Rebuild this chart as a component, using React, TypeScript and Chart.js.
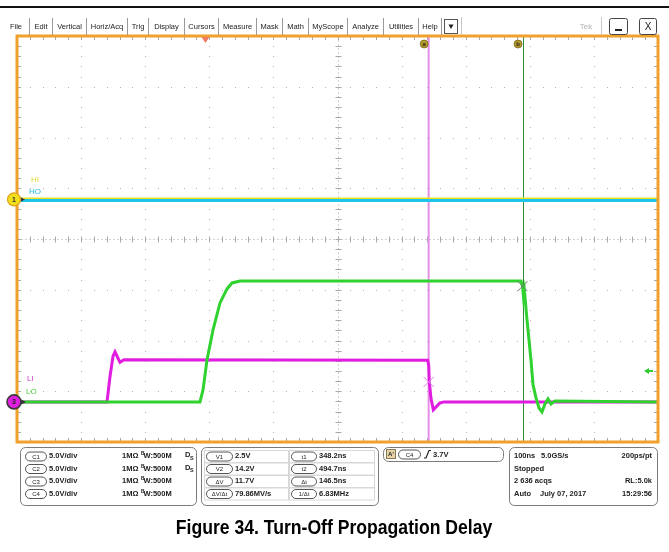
import React, { useEffect, useRef } from "react";
import { Chart, registerables } from "chart.js";

Chart.register(...registerables);

// ---------------- data ----------------
const VOLTS_PER_DIV = 5;
const TIME_PER_DIV = 100; // ns
const TIME_START = -294; // ns (left edge, relative to trigger)
const X_DIVS = 10;
const Y_DIVS = 8;
const CH1_OFFSET_DIV = 0.78;
const CH3_OFFSET_DIV = -3.21;

// HI (yellow) / HO (cyan) on channel-1 reference
const hiTimes = [-294, 706];
const hiVolts = [0.05, 0.05];
const hoTimes = [-294, 706];
const hoVolts = [-0.1, -0.1];

// LI (magenta)
const liTimes = [-294, -153.6, -148.9, -144.2, -141.1, -136.4, -133.3, -127.1, 346.7, 348.3, 349.2, 351.9, 355.5, 359.7, 365.9, 372.1, 706];
const liVolts = [0, 0, 2.5, 4.5, 4.93, 4.3, 3.9, 4.15, 4.1, 3.6, 1.97, 0.3, -0.79, -0.5, -0.1, 0, 0];

// LO (green)
const loTimes = [-294, -8.5, -3.8, 2.4, 11.8, 22.7, 33.6, 41.4, 53.9, 492.3, 494.6, 496.2, 497.7, 501.6, 507.9, 511, 515.7, 520.4, 525, 529.7, 534.4, 539.1, 545.3, 706];
const loVolts = [0, 0, 1.18, 4.14, 7.1, 9.75, 11.13, 11.72, 11.9, 11.9, 11.4, 10.3, 10.9, 8.1, 4.1, 1.7, 0.4, -0.6, -0.99, -0.2, 0.3, -0.2, 0.1, 0];

const cursorATime = 348.2;
const cursorBTime = 494.7;
const cursorAVolts = 1.97; // on LI
const cursorBVolts = 11.4; // on LO
const trigArrowDiv = -2.6;

const menuItems = ["File", "Edit", "Vertical", "Horiz/Acq", "Trig", "Display", "Cursors", "Measure", "Mask", "Math", "MyScope", "Analyze", "Utilities", "Help"];
const chNames = ["C1", "C2", "C3", "C4"];
const chScales = ["5.0V/div", "5.0V/div", "5.0V/div", "5.0V/div"];
const chImpedance = ["1MΩ", "1MΩ", "1MΩ", "1MΩ"];
const chBandwidth = ["W:500M", "W:500M", "W:500M", "W:500M"];
const chDs = [true, true, false, false];
const measLeftLabels = ["V1", "V2", "ΔV", "ΔV/Δt"];
const measLeftValues = ["2.5V", "14.2V", "11.7V", "79.86MV/s"];
const measRightLabels = ["t1", "t2", "Δt", "1/Δt"];
const measRightValues = ["348.2ns", "494.7ns", "146.5ns", "6.83MHz"];
const trigSource = "C4";
const trigLevel = "3.7V";
const horizLine = ["100ns", "5.0GS/s", "200ps/pt"];
const acqState = "Stopped";
const acqCount = ["2 636 acqs", "RL:5.0k"];
const acqDate = ["Auto", "July 07, 2017", "15:29:56"];
const figureTitle = "Figure 34. Turn-Off Propagation Delay";

// ---------------- helpers ----------------
const toDiv = (offset: number, v: number) => offset + v / VOLTS_PER_DIV;
const mk = (ts: number[], vs: number[], off: number) => ts.map((t, i) => ({ x: t, y: toDiv(off, vs[i]) }));

const FONT = '"Liberation Sans", Arial, sans-serif';

function pill(ctx: CanvasRenderingContext2D, x: number, y: number, w: number, h: number, text: string) {
  ctx.beginPath();
  ctx.roundRect(x + 0.5, y - h / 2 + 0.5, w, h, h / 2);
  ctx.fillStyle = "#fff";
  ctx.fill();
  ctx.strokeStyle = "#555";
  ctx.lineWidth = 1;
  ctx.stroke();
  ctx.fillStyle = "#222";
  ctx.font = `6px ${FONT}`;
  ctx.textAlign = "center";
  ctx.textBaseline = "middle";
  ctx.fillText(text, x + w / 2 + 0.5, y + 1);
}

function panel(ctx: CanvasRenderingContext2D, x: number, y: number, w: number, h: number) {
  ctx.beginPath();
  ctx.roundRect(x + 0.5, y + 0.5, w, h, 5);
  ctx.fillStyle = "#fff";
  ctx.fill();
  ctx.strokeStyle = "#7a7a7a";
  ctx.lineWidth = 1;
  ctx.stroke();
}

function txt(ctx: CanvasRenderingContext2D, s: string, x: number, y: number, align: CanvasTextAlign = "left", font = `bold 7.5px ${FONT}`, color = "#222") {
  ctx.font = font;
  ctx.fillStyle = color;
  ctx.textAlign = align;
  ctx.textBaseline = "middle";
  ctx.fillText(s, x, y);
}

const overlay = {
  id: "scopeOverlay",
  beforeDraw(chart: any) {
    const { ctx, width, height } = chart;
    const xs = chart.scales.x;
    const ys = chart.scales.y;
    const ca = chart.chartArea;
    ctx.save();
    ctx.fillStyle = "#fff";
    ctx.fillRect(0, 0, width, height);

    // dotted graticule
    ctx.fillStyle = "#b4b4b4";
    for (let i = 1; i < X_DIVS; i++) {
      if (i === X_DIVS / 2) continue;
      const px = Math.round(xs.getPixelForValue(TIME_START + i * TIME_PER_DIV));
      for (let j = 1; j < Y_DIVS * 5; j++) {
        const py = Math.round(ys.getPixelForValue(-Y_DIVS / 2 + j / 5));
        ctx.fillRect(px, py, 1, 1);
      }
    }
    for (let j = 1; j < Y_DIVS; j++) {
      if (j === Y_DIVS / 2) continue;
      const py = Math.round(ys.getPixelForValue(-Y_DIVS / 2 + j));
      for (let i = 1; i < X_DIVS * 5; i++) {
        const px = Math.round(xs.getPixelForValue(TIME_START + (i * TIME_PER_DIV) / 5));
        ctx.fillRect(px, py, 1, 1);
      }
    }
    // centre crosshair
    const cx = Math.round(xs.getPixelForValue(TIME_START + (X_DIVS / 2) * TIME_PER_DIV)) + 0.5;
    const cy = Math.round(ys.getPixelForValue(0)) + 0.5;
    ctx.strokeStyle = "#d2d2d2";
    ctx.lineWidth = 1;
    ctx.setLineDash([2, 2]);
    ctx.beginPath();
    ctx.moveTo(ca.left, cy);
    ctx.lineTo(ca.right, cy);
    ctx.moveTo(cx, ca.top);
    ctx.lineTo(cx, ca.bottom);
    ctx.stroke();
    ctx.setLineDash([]);
    ctx.strokeStyle = "#a8a8a8";
    ctx.beginPath();
    for (let i = 1; i < X_DIVS * 5; i++) {
      const px = Math.round(xs.getPixelForValue(TIME_START + (i * TIME_PER_DIV) / 5)) + 0.5;
      ctx.moveTo(px, cy - 3);
      ctx.lineTo(px, cy + 3);
      ctx.moveTo(px, ca.top);
      ctx.lineTo(px, ca.top + 4);
      ctx.moveTo(px, ca.bottom);
      ctx.lineTo(px, ca.bottom - 4);
    }
    for (let j = 1; j < Y_DIVS * 5; j++) {
      const py = Math.round(ys.getPixelForValue(-Y_DIVS / 2 + j / 5)) + 0.5;
      ctx.moveTo(cx - 3, py);
      ctx.lineTo(cx + 3, py);
      ctx.moveTo(ca.left, py);
      ctx.lineTo(ca.left + 4, py);
      ctx.moveTo(ca.right, py);
      ctx.lineTo(ca.right - 4, py);
    }
    ctx.stroke();
    ctx.restore();
  },
  beforeDatasetsDraw(chart: any) {
    const { ctx } = chart;
    const xs = chart.scales.x;
    const ca = chart.chartArea;
    ctx.save();
    const ax = xs.getPixelForValue(cursorATime);
    ctx.strokeStyle = "#e58ee8";
    ctx.lineWidth = 2;
    ctx.beginPath();
    ctx.moveTo(ax, ca.top);
    ctx.lineTo(ax, ca.bottom);
    ctx.stroke();
    const bx = Math.round(xs.getPixelForValue(cursorBTime)) + 0.5;
    ctx.strokeStyle = "#2a8c36";
    ctx.lineWidth = 1;
    ctx.beginPath();
    ctx.moveTo(bx, ca.top);
    ctx.lineTo(bx, ca.bottom);
    ctx.stroke();
    ctx.restore();
  },
  afterDatasetsDraw(chart: any) {
    const { ctx, width } = chart;
    const xs = chart.scales.x;
    const ys = chart.scales.y;
    const ca = chart.chartArea;
    ctx.save();

    // cursor crossing X marks
    const drawX = (x: number, y: number, c: string) => {
      ctx.strokeStyle = c;
      ctx.lineWidth = 1;
      ctx.beginPath();
      ctx.moveTo(x - 5, y - 5);
      ctx.lineTo(x + 5, y + 5);
      ctx.moveTo(x + 5, y - 5);
      ctx.lineTo(x - 5, y + 5);
      ctx.stroke();
    };
    drawX(xs.getPixelForValue(cursorATime), ys.getPixelForValue(toDiv(CH3_OFFSET_DIV, cursorAVolts)), "#e27ee6");
    drawX(xs.getPixelForValue(cursorBTime), ys.getPixelForValue(toDiv(CH3_OFFSET_DIV, cursorBVolts)), "#6f7f6f");

    // orange frame
    ctx.strokeStyle = "#f0a02c";
    ctx.lineWidth = 3;
    ctx.strokeRect(ca.left, ca.top, ca.right - ca.left, ca.bottom - ca.top);

    // trigger position marker
    const tx = xs.getPixelForValue(0);
    ctx.fillStyle = "#f07a62";
    ctx.beginPath();
    ctx.moveTo(tx - 4, ca.top + 1);
    ctx.lineTo(tx + 4, ca.top + 1);
    ctx.lineTo(tx, ca.top + 7);
    ctx.closePath();
    ctx.fill();

    // cursor a / b badges
    const badge = (x: number, l: string) => {
      ctx.beginPath();
      ctx.arc(x, ca.top + 8, 4, 0, Math.PI * 2);
      ctx.fillStyle = "#b59a2a";
      ctx.fill();
      ctx.strokeStyle = "#7a6a20";
      ctx.lineWidth = 0.8;
      ctx.stroke();
      txt(ctx, l, x, ca.top + 8.5, "center", `bold 6px ${FONT}`, "#222");
    };
    badge(xs.getPixelForValue(cursorATime) - 4.5, "a");
    badge(xs.getPixelForValue(cursorBTime) - 4.5, "b");

    // trigger level arrow (right side)
    const ty = ys.getPixelForValue(trigArrowDiv);
    ctx.fillStyle = "#2ecc2e";
    ctx.beginPath();
    ctx.moveTo(ca.right - 14, ty);
    ctx.lineTo(ca.right - 9, ty - 3);
    ctx.lineTo(ca.right - 9, ty + 3);
    ctx.closePath();
    ctx.fill();
    ctx.fillRect(ca.right - 9, ty - 1, 4, 2);

    // channel markers
    const c1y = ys.getPixelForValue(CH1_OFFSET_DIV);
    ctx.fillStyle = "#333";
    ctx.beginPath();
    ctx.moveTo(20, c1y - 2.5);
    ctx.lineTo(25, c1y);
    ctx.lineTo(20, c1y + 2.5);
    ctx.fill();
    ctx.beginPath();
    ctx.arc(14, c1y, 6.5, 0, Math.PI * 2);
    ctx.fillStyle = "#f2df1c";
    ctx.fill();
    ctx.strokeStyle = "#e2a21a";
    ctx.lineWidth = 1.2;
    ctx.stroke();
    txt(ctx, "1", 14, c1y + 0.5, "center", `bold 7px ${FONT}`, "#333");

    const c3y = ys.getPixelForValue(CH3_OFFSET_DIV);
    ctx.fillStyle = "#333";
    ctx.beginPath();
    ctx.moveTo(20, c3y - 3);
    ctx.lineTo(26, c3y);
    ctx.lineTo(20, c3y + 3);
    ctx.fill();
    ctx.beginPath();
    ctx.arc(14, c3y, 7, 0, Math.PI * 2);
    ctx.fillStyle = "#e01ee0";
    ctx.fill();
    ctx.strokeStyle = "#3a3a3a";
    ctx.lineWidth = 1.6;
    ctx.stroke();
    txt(ctx, "3", 14, c3y + 0.5, "center", `bold 7px ${FONT}`, "#222");

    // trace labels
    txt(ctx, "HI", 31, 180, "left", `8px ${FONT}`, "#e4dc3a");
    txt(ctx, "HO", 29, 192, "left", `8px ${FONT}`, "#22bde0");
    txt(ctx, "LI", 27, 379, "left", `8px ${FONT}`, "#d63ad6");
    txt(ctx, "LO", 26, 392, "left", `8px ${FONT}`, "#4ccc3c");

    // top black rule
    ctx.fillStyle = "#111";
    ctx.fillRect(0, 6, width, 2);

    // menu bar
    const seps = [29, 52, 86, 127, 148, 184, 218, 256, 282, 308, 347, 383, 418, 441];
    let prev = 2;
    ctx.strokeStyle = "#9a9a9a";
    ctx.lineWidth = 1;
    menuItems.forEach((m, i) => {
      const s = seps[i];
      txt(ctx, m, (prev + s) / 2 + 0.5, 27, "center", `7.5px ${FONT}`, "#222");
      ctx.beginPath();
      ctx.moveTo(s + 0.5, 18);
      ctx.lineTo(s + 0.5, 35);
      ctx.stroke();
      prev = s;
    });
    // drop-down box
    ctx.strokeStyle = "#555";
    ctx.strokeRect(444.5, 19.5, 13, 14);
    ctx.fillStyle = "#222";
    ctx.beginPath();
    ctx.moveTo(448.5, 24.5);
    ctx.lineTo(453.5, 24.5);
    ctx.lineTo(451, 29);
    ctx.closePath();
    ctx.fill();
    ctx.strokeStyle = "#c8c8c8";
    ctx.beginPath();
    ctx.moveTo(461.5, 17);
    ctx.lineTo(461.5, 35);
    ctx.moveTo(601.5, 17);
    ctx.lineTo(601.5, 35);
    ctx.stroke();
    txt(ctx, "Tek", 586, 26.5, "center", `8px ${FONT}`, "#b0b0b0");
    ctx.strokeStyle = "#444";
    ctx.beginPath();
    ctx.roundRect(609.5, 18.5, 18, 16, 2);
    ctx.stroke();
    ctx.fillStyle = "#222";
    ctx.fillRect(615, 29, 7, 2);
    ctx.beginPath();
    ctx.roundRect(639.5, 18.5, 17, 16, 2);
    ctx.stroke();
    txt(ctx, "X", 648, 27, "center", `10px ${FONT}`, "#222");

    // ---- bottom panels ----
    const rowY = [456, 468.5, 481, 493.5];
    panel(ctx, 20, 447, 176, 58);
    chNames.forEach((c, i) => {
      const y = rowY[i];
      pill(ctx, 25, y, 21, 9, c);
      txt(ctx, chScales[i], 49, y);
      txt(ctx, chImpedance[i], 122, y);
      txt(ctx, "B", 141, y - 2, "left", `bold 5px ${FONT}`);
      txt(ctx, chBandwidth[i], 143.5, y);
      if (chDs[i]) {
        txt(ctx, "D", 185, y - 1, "left", `bold 7.5px ${FONT}`);
        txt(ctx, "S", 190, y + 2, "left", `bold 5.5px ${FONT}`);
      }
    });

    panel(ctx, 201, 447, 177, 58);
    ctx.lineWidth = 1;
    rowY.forEach((y, i) => {
      ctx.strokeStyle = "#d8d8d8";
      ctx.strokeRect(204.5, y - 5.5, 84, 12);
      ctx.strokeRect(289.5, y - 5.5, 85, 12);
      pill(ctx, 206, y, 26, 9, measLeftLabels[i]);
      txt(ctx, measLeftValues[i], 235, y);
      pill(ctx, 291, y, 25, 9, measRightLabels[i]);
      txt(ctx, measRightValues[i], 319, y);
    });

    panel(ctx, 383, 447, 120, 14);
    ctx.fillStyle = "#e6d3a8";
    ctx.fillRect(386, 449.5, 10, 9);
    ctx.strokeStyle = "#8a7a50";
    ctx.strokeRect(386.5, 449.5, 9, 9);
    txt(ctx, "A'", 391, 454.5, "center", `bold 6px ${FONT}`);
    pill(ctx, 398, 454, 22, 9, trigSource);
    ctx.strokeStyle = "#222";
    ctx.lineWidth = 1.2;
    ctx.beginPath();
    ctx.moveTo(424, 458);
    ctx.lineTo(426, 458);
    ctx.lineTo(429, 450.5);
    ctx.lineTo(431, 450.5);
    ctx.stroke();
    txt(ctx, trigLevel, 433, 454.5);

    panel(ctx, 509, 447, 148, 58);
    txt(ctx, horizLine[0], 514, rowY[0]);
    txt(ctx, horizLine[1], 541, rowY[0]);
    txt(ctx, horizLine[2], 652, rowY[0], "right");
    txt(ctx, acqState, 514, rowY[1]);
    txt(ctx, acqCount[0], 514, rowY[2]);
    txt(ctx, acqCount[1], 652, rowY[2], "right");
    txt(ctx, acqDate[0], 514, rowY[3]);
    txt(ctx, acqDate[1], 540, rowY[3]);
    txt(ctx, acqDate[2], 652, rowY[3], "right");

    // figure title (slightly condensed, as in the reference)
    ctx.save();
    ctx.translate(334, 528);
    ctx.scale(0.88, 1);
    txt(ctx, figureTitle, 0, 0, "center", `bold 20px ${FONT}`, "#000");
    ctx.restore();

    ctx.restore();
  },
};

export default function App() {
  const ref = useRef<HTMLCanvasElement | null>(null);
  useEffect(() => {
    const canvas = ref.current;
    if (!canvas) return;
    const ds = (label: string, data: any[], color: string, w: number) => ({
      label,
      data,
      borderColor: color,
      backgroundColor: color,
      borderWidth: w,
      pointRadius: 0,
      fill: false,
      tension: 0,
    });
    const chart = new Chart(canvas, {
      type: "line",
      data: {
        datasets: [
          ds("HO", mk(hoTimes, hoVolts, CH1_OFFSET_DIV), "#1fc4ea", 3),
          ds("HI", mk(hiTimes, hiVolts, CH1_OFFSET_DIV), "#e8e21e", 3),
          ds("LO", mk(loTimes, loVolts, CH3_OFFSET_DIV), "#2fd22f", 3),
          ds("LI", mk(liTimes, liVolts, CH3_OFFSET_DIV), "#e01ce0", 3),
        ],
      },
      options: {
        animation: false,
        responsive: false,
        devicePixelRatio: 1,
        events: [],
        layout: { padding: { left: 17, right: 11, top: 36, bottom: 110 }, autoPadding: false },
        plugins: { legend: { display: false }, tooltip: { enabled: false } },
        scales: {
          x: {
            type: "linear",
            min: TIME_START,
            max: TIME_START + X_DIVS * TIME_PER_DIV,
            ticks: { display: false },
            grid: { display: false },
            border: { display: false },
            afterFit: (s: any) => {
              s.height = 0;
            },
          },
          y: {
            type: "linear",
            min: -Y_DIVS / 2,
            max: Y_DIVS / 2,
            ticks: { display: false },
            grid: { display: false },
            border: { display: false },
            afterFit: (s: any) => {
              s.width = 0;
            },
          },
        },
      },
      plugins: [overlay],
    } as any);
    return () => chart.destroy();
  }, []);
  return (
    <div style={{ position: "fixed", left: 0, top: 0, width: 669, height: 552, background: "#fff" }}>
      <canvas ref={ref} width={669} height={552} style={{ display: "block", width: 669, height: 552 }} />
    </div>
  );
}
